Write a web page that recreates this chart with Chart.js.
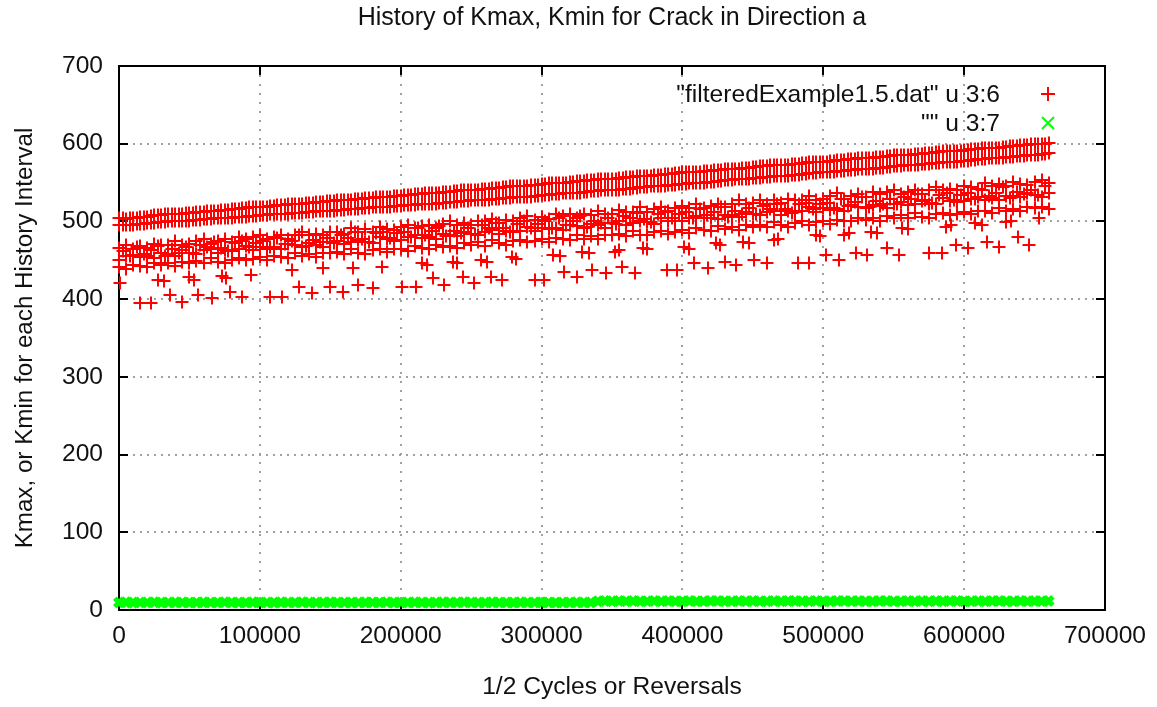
<!DOCTYPE html>
<html>
<head>
<meta charset="utf-8">
<title>History of Kmax, Kmin for Crack in Direction a</title>
<script src="https://cdn.jsdelivr.net/npm/chart.js"></script>
<style>
  html, body { margin: 0; padding: 0; background: #fff; overflow: hidden; }
  #chart { display: block; }
</style>
</head>
<body>
<canvas id="chart" width="1157" height="707"></canvas>
<script>
const ctx = document.getElementById("chart");

const TITLE = "History of Kmax, Kmin for Crack in Direction a";
const X_TITLE = "1/2 Cycles or Reversals";
const Y_TITLE = "Kmax, or Kmin for each History Interval";
const LABEL_K = '"filteredExample1.5.dat" u 3:6';
const LABEL_KMIN = '"" u 3:7';

const xTicks = [0, 100000, 200000, 300000, 400000, 500000, 600000, 700000];
const yTicks = [0, 100, 200, 300, 400, 500, 600, 700];

// 1/2 cycles of each history interval
const cycles = [
  0, 5000, 10000, 15000, 20000, 25000, 30000, 35000, 40000, 45000,
  50000, 55000, 60000, 65000, 70000, 75000, 80000, 85000, 90000, 95000,
  100000, 105000, 110000, 115000, 120000, 125000, 130000, 135000, 140000, 145000,
  150000, 155000, 160000, 165000, 170000, 175000, 180000, 185000, 190000, 195000,
  200000, 205000, 210000, 215000, 220000, 225000, 230000, 235000, 240000, 245000,
  250000, 255000, 260000, 265000, 270000, 275000, 280000, 285000, 290000, 295000,
  300000, 305000, 310000, 315000, 320000, 325000, 330000, 335000, 340000, 345000,
  350000, 355000, 360000, 365000, 370000, 375000, 380000, 385000, 390000, 395000,
  400000, 405000, 410000, 415000, 420000, 425000, 430000, 435000, 440000, 445000,
  450000, 455000, 460000, 465000, 470000, 475000, 480000, 485000, 490000, 495000,
  500000, 505000, 510000, 515000, 520000, 525000, 530000, 535000, 540000, 545000,
  550000, 555000, 560000, 565000, 570000, 575000, 580000, 585000, 590000, 595000,
  600000, 605000, 610000, 615000, 620000, 625000, 630000, 635000, 640000, 645000,
  650000, 655000, 660000
];
// the intervals that fall in between
const cyclesMid = [
  2500, 7500, 12500, 17500, 22500, 27500, 32500, 37500, 42500, 47500,
  52500, 57500, 62500, 67500, 72500, 77500, 82500, 87500, 92500, 97500,
  102500, 107500, 112500, 117500, 122500, 127500, 132500, 137500, 142500, 147500,
  152500, 157500, 162500, 167500, 172500, 177500, 182500, 187500, 192500, 197500,
  202500, 207500, 212500, 217500, 222500, 227500, 232500, 237500, 242500, 247500,
  252500, 257500, 262500, 267500, 272500, 277500, 282500, 287500, 292500, 297500,
  302500, 307500, 312500, 317500, 322500, 327500, 332500, 337500, 342500, 347500,
  352500, 357500, 362500, 367500, 372500, 377500, 382500, 387500, 392500, 397500,
  402500, 407500, 412500, 417500, 422500, 427500, 432500, 437500, 442500, 447500,
  452500, 457500, 462500, 467500, 472500, 477500, 482500, 487500, 492500, 497500,
  502500, 507500, 512500, 517500, 522500, 527500, 532500, 537500, 542500, 547500,
  552500, 557500, 562500, 567500, 572500, 577500, 582500, 587500, 592500, 597500,
  602500, 607500, 612500, 617500, 622500, 627500, 632500, 637500, 642500, 647500,
  652500, 657500
];

// Kmax, upper band (two rows)
const kmaxTop = [
  504, 503, 505, 506, 506, 508, 508, 509, 510, 510,
  511, 512, 512, 514, 514, 515, 516, 516, 517, 518,
  519, 519, 520, 521, 522, 522, 523, 524, 525, 525,
  526, 527, 527, 528, 529, 530, 530, 531, 532, 533,
  533, 534, 535, 535, 536, 537, 538, 538, 539, 540,
  541, 541, 542, 543, 543, 544, 545, 546, 546, 547,
  548, 549, 549, 550, 551, 552, 552, 553, 554, 554,
  555, 556, 557, 557, 558, 559, 560, 560, 561, 562,
  563, 563, 564, 565, 565, 566, 567, 568, 568, 569,
  570, 571, 571, 572, 573, 573, 574, 575, 576, 576,
  577, 578, 579, 579, 580, 581, 582, 582, 583, 584,
  585, 585, 586, 587, 587, 588, 589, 590, 590, 591,
  592, 593, 593, 594, 595, 595, 596, 597, 598, 598,
  599, 600, 601
];
const kmaxTop2 = [
  495, 496, 496, 497, 498, 498, 499, 500, 500, 501,
  501, 502, 503, 503, 504, 505, 505, 506, 506, 507,
  508, 508, 509, 510, 510, 511, 511, 512, 513, 513,
  514, 515, 515, 516, 516, 517, 518, 518, 519, 520,
  520, 521, 521, 522, 523, 523, 524, 525, 525, 526,
  527, 527, 528, 529, 529, 530, 531, 531, 532, 533,
  534, 534, 535, 536, 536, 537, 538, 539, 539, 540,
  541, 541, 542, 543, 544, 544, 545, 546, 547, 547,
  548, 549, 550, 550, 551, 552, 553, 553, 554, 555,
  556, 556, 557, 558, 559, 559, 560, 561, 562, 562,
  563, 564, 565, 565, 566, 567, 568, 568, 569, 570,
  571, 571, 572, 573, 574, 574, 575, 576, 577, 577,
  578, 579, 580, 580, 581, 582, 583, 583, 584, 585,
  586, 587, 588
];
const kmaxTopMid = [
  504, 504, 505, 506, 507, 508, 509, 509, 510, 511,
  511, 512, 513, 514, 515, 515, 516, 517, 518, 518,
  519, 520, 521, 521, 522, 523, 524, 524, 525, 526,
  526, 527, 528, 529, 529, 530, 531, 532, 532, 533,
  534, 534, 535, 536, 537, 537, 538, 539, 540, 540,
  541, 542, 542, 543, 544, 545, 545, 546, 547, 547,
  548, 549, 550, 550, 551, 552, 553, 553, 554, 555,
  555, 556, 557, 558, 558, 559, 560, 561, 561, 562,
  563, 564, 564, 565, 566, 566, 567, 568, 569, 569,
  570, 571, 572, 572, 573, 574, 574, 575, 576, 577,
  577, 578, 579, 580, 580, 581, 582, 583, 583, 584,
  585, 586, 586, 587, 588, 588, 589, 590, 591, 591,
  592, 593, 594, 594, 595, 596, 597, 597, 598, 599,
  599, 600
];
const kmaxTop2Mid = [
  495, 496, 497, 497, 498, 499, 499, 500, 501, 501,
  502, 502, 503, 504, 504, 505, 506, 506, 507, 507,
  508, 509, 509, 510, 511, 511, 512, 512, 513, 514,
  514, 515, 516, 516, 517, 517, 518, 519, 519, 520,
  521, 521, 522, 522, 523, 524, 524, 525, 526, 526,
  527, 528, 528, 529, 530, 530, 531, 532, 532, 533,
  534, 535, 535, 536, 537, 537, 538, 539, 540, 540,
  541, 542, 542, 543, 544, 545, 545, 546, 547, 548,
  548, 549, 550, 551, 551, 552, 553, 554, 554, 555,
  556, 557, 557, 558, 559, 560, 560, 561, 562, 563,
  563, 564, 565, 566, 566, 567, 568, 569, 569, 570,
  571, 572, 572, 573, 574, 575, 575, 576, 577, 578,
  578, 579, 580, 581, 581, 582, 583, 584, 584, 585,
  586, 587
];

// Kmax, middle band
const kmaxMidA = [
  466, 470, 465, 469, 466, 471, 470, 470, 475, 470,
  471, 475, 478, 471, 475, 477, 474, 480, 477, 480,
  482, 478, 480, 483, 477, 483, 486, 482, 484, 482,
  487, 486, 484, 491, 487, 490, 487, 493, 490, 489,
  493, 495, 491, 494, 496, 492, 497, 500, 496, 498,
  496, 501, 500, 503, 498, 502, 501, 505, 507, 502,
  506, 503, 509, 507, 509, 505, 510, 508, 513, 510,
  509, 515, 512, 512, 518, 512, 516, 518, 513, 517,
  520, 517, 522, 517, 520, 523, 518, 523, 527, 522,
  524, 528, 523, 527, 524, 529, 528, 527, 533, 528,
  529, 533, 536, 529, 533, 535, 532, 538, 535, 538,
  540, 535, 538, 541, 535, 541, 544, 540, 542, 540,
  545, 544, 542, 549, 545, 548, 545, 551, 548, 547,
  551, 553, 549
];
const kmaxMidB = [
  451, 455, 457, 454, 456, 453, 459, 458, 456, 463,
  459, 458, 463, 464, 459, 463, 462, 464, 468, 463,
  467, 465, 467, 464, 471, 470, 467, 472, 470, 467,
  473, 475, 471, 474, 476, 474, 472, 480, 477, 475,
  476, 480, 482, 479, 480, 478, 484, 483, 481, 487,
  484, 483, 487, 489, 484, 488, 487, 488, 493, 488,
  492, 490, 492, 489, 496, 494, 492, 497, 495, 492,
  498, 500, 496, 498, 501, 499, 497, 505, 501, 500,
  501, 504, 507, 504, 505, 503, 508, 508, 506, 512,
  509, 508, 512, 514, 508, 513, 512, 513, 518, 512,
  517, 515, 516, 514, 521, 519, 517, 521, 520, 517,
  522, 525, 521, 523, 526, 523, 522, 530, 526, 525,
  526, 529, 532, 528, 530, 528, 533, 533, 531, 537,
  534, 532, 537
];
const kmaxMidC = [
  442, 439, 444, 443, 441, 447, 444, 446, 443, 448,
  447, 449, 446, 453, 448, 447, 451, 453, 450, 452,
  454, 450, 456, 454, 453, 459, 455, 458, 454, 460,
  459, 461, 458, 464, 460, 458, 463, 465, 461, 464,
  465, 462, 468, 466, 465, 470, 467, 469, 466, 472,
  470, 473, 469, 476, 472, 470, 475, 476, 473, 475,
  477, 474, 479, 478, 476, 482, 478, 481, 478, 483,
  482, 484, 481, 488, 483, 482, 486, 488, 484, 487,
  489, 485, 491, 489, 488, 494, 490, 493, 489, 495,
  493, 496, 493, 499, 495, 493, 498, 500, 496, 499,
  500, 497, 502, 501, 500, 505, 502, 504, 501, 507,
  505, 508, 504, 511, 506, 505, 510, 511, 508, 510,
  512, 509, 514, 513, 511, 517, 514, 516, 513, 518,
  517, 519, 516
];
const kmaxMidMid = [
  462, 455, 467, 458, 463, 469, 456, 464, 460, 467,
  460, 470, 467, 473, 466, 462, 472, 475, 467, 472,
  475, 467, 479, 471, 475, 482, 468, 476, 473, 479,
  472, 483, 479, 486, 478, 474, 485, 487, 479, 485,
  487, 480, 491, 483, 488, 494, 481, 488, 485, 492,
  484, 495, 492, 498, 491, 486, 497, 500, 491, 497,
  500, 492, 504, 495, 500, 507, 493, 501, 498, 504,
  497, 507, 504, 511, 503, 499, 509, 512, 504, 509,
  512, 505, 516, 508, 512, 519, 506, 513, 510, 517,
  509, 520, 516, 523, 516, 511, 522, 524, 516, 522,
  524, 517, 529, 520, 525, 531, 518, 526, 522, 529,
  522, 532, 529, 535, 528, 524, 534, 537, 528, 534,
  537, 529, 541, 533, 537, 544, 530, 538, 535, 541,
  534, 545
];

// Kmax, the sparse points under the bands
const stepCycles = [
  1000, 28000, 32000, 50000, 53000, 73000, 76000, 94000, 123000, 145000,
  166000, 187000, 215000, 219000, 237000, 240000, 257000, 261000, 279000, 282000,
  308000, 313000, 329000, 334000, 352000, 355000, 372000, 375000, 401000, 405000,
  424000, 427000, 443000, 447000, 465000, 468000, 495000, 498000, 515000, 518000,
  534000, 538000, 556000, 560000, 587000, 591000, 608000, 613000, 630000, 633000,
  653000
];
const stepKmax = [
  421, 425, 423, 428, 425, 430, 427, 431, 438, 440,
  440, 441, 446, 444, 448, 446, 450, 448, 454, 452,
  457, 455, 461, 459, 461, 463, 466, 464, 467, 465,
  472, 470, 474, 472, 476, 478, 483, 481, 483, 485,
  487, 485, 492, 490, 493, 495, 498, 496, 499, 501,
  504
];
const dipCycles = [
  15000, 23000, 36000, 45000, 56000, 66000, 79000, 87000, 107000, 116000,
  128000, 137000, 150000, 159000, 170000, 180000, 201000, 211000, 223000, 231000,
  244000, 252000, 264000, 272000, 295000, 302000, 316000, 325000, 336000, 346000,
  357000, 366000, 389000, 396000, 408000, 418000, 430000, 438000, 451000, 460000,
  482000, 490000, 502000, 511000, 523000, 531000, 545000, 554000, 575000, 584000,
  594000, 603000, 616000, 625000, 638000, 646000
];
const dipKmax = [
  395, 395, 405, 396, 405, 401, 409, 403, 403, 403,
  416, 408, 416, 409, 418, 414, 416, 416, 427, 418,
  429, 421, 429, 425, 425, 425, 435, 429, 438, 433,
  441, 433, 438, 438, 446, 440, 448, 444, 450, 446,
  446, 446, 457, 450, 459, 457, 466, 457, 459, 459,
  470, 466, 474, 467, 480, 470
];

// Kmin for each interval
const kmin = [
  9.6, 9.8, 9.5, 9.7, 9.6, 9.9, 9.5, 9.6, 9.8, 9.7,
  9.6, 9.5, 9.8, 9.7, 9.6, 9.9, 9.6, 9.5, 9.7, 9.8,
  9.6, 9.7, 9.5, 9.8, 9.6, 9.7, 9.9, 9.6, 9.5, 9.7,
  9.8, 9.6, 9.7, 9.5, 9.6, 9.8, 9.7, 9.6, 9.9, 9.5,
  9.7, 9.6, 9.8, 9.6, 9.5, 9.7, 9.8, 9.6, 9.7, 9.9,
  9.6, 9.5, 9.7, 9.8, 9.6, 9.7, 9.5, 9.8, 9.6, 9.7,
  9.8, 9.6, 9.5, 9.7, 9.6, 9.8, 9.7, 9.6, 11.4, 11.5,
  11.3, 11.5, 11.4, 11.6, 11.3, 11.4, 11.5, 11.4, 11.6, 11.3,
  11.4, 11.5, 11.3, 11.4, 11.6, 11.5, 11.4, 11.3, 11.5, 11.4,
  11.6, 11.4, 11.3, 11.5, 11.4, 11.5, 11.6, 11.3, 11.4, 11.5,
  11.4, 11.3, 11.5, 11.6, 11.4, 11.5, 11.3, 11.4, 11.6, 11.5,
  11.3, 11.4, 11.5, 11.4, 11.6, 11.3, 11.5, 11.4, 11.5, 11.6,
  11.4, 11.3, 11.5, 11.4, 11.6, 11.5, 11.4, 11.3, 11.5, 11.4,
  11.5, 11.4, 11.6
];

const FAMILY = '"Liberation Sans", Arial, sans-serif';
const TEXT = "#111";
const FONT = { family: FAMILY, size: 24.6, weight: "normal" };
const TITLE_FONT = { family: FAMILY, size: 25, weight: "normal" };
const YTITLE_FONT = { family: FAMILY, size: 24.2, weight: "normal" };

const zip = (xs, ys) => xs.map((x, i) => ({ x: x, y: ys[i] }));

const kmaxPoints = [].concat(
  zip(cycles, kmaxTop),
  zip(cycles, kmaxTop2),
  zip(cyclesMid, kmaxTopMid),
  zip(cyclesMid, kmaxTop2Mid),
  zip(cycles, kmaxMidA),
  zip(cycles, kmaxMidB),
  zip(cycles, kmaxMidC),
  zip(cyclesMid, kmaxMidMid),
  zip(stepCycles, stepKmax),
  zip(dipCycles, dipKmax)
);

// border with inward tics on all four sides, like gnuplot
const frame = {
  id: "frame",
  beforeDatasetsDraw(chart) {
    const c = chart.ctx;
    const a = chart.chartArea;
    const px = (v) => Math.round(v);
    const L = px(a.left), R = px(a.right), T = px(a.top), B = px(a.bottom);
    c.save();
    c.strokeStyle = "#000";
    c.lineWidth = 2;
    c.beginPath();
    c.rect(L, T, R - L, B - T);
    chart.scales.x.ticks.forEach((t) => {
      const x = px(chart.scales.x.getPixelForValue(t.value));
      c.moveTo(x, B); c.lineTo(x, B - 9);
      c.moveTo(x, T); c.lineTo(x, T + 9);
    });
    chart.scales.y.ticks.forEach((t) => {
      const y = px(chart.scales.y.getPixelForValue(t.value));
      c.moveTo(L, y); c.lineTo(L + 9, y);
      c.moveTo(R, y); c.lineTo(R - 9, y);
    });
    c.stroke();
    c.restore();
  },
};

// gnuplot puts its points on whole pixels
const snap = {
  id: "snap",
  beforeDatasetsDraw(chart) {
    chart.getDatasetMeta(0).data.forEach((p) => {
      p.x = Math.round(p.x);
      p.y = Math.round(p.y);
    });
  },
};

// the Kmin crosses are packed so tight they merge into one band
const squareCaps = {
  id: "squareCaps",
  beforeDatasetDraw(chart, args) {
    if (args.index === 1) { chart.ctx.save(); chart.ctx.lineCap = "square"; }
  },
  afterDatasetDraw(chart, args) {
    if (args.index === 1) chart.ctx.restore();
  },
};

// key in the top right corner: text right aligned, sample point after it
const key = {
  id: "key",
  afterDatasetsDraw(chart) {
    const c = chart.ctx;
    c.save();
    c.font = FONT.size + "px " + FAMILY;
    c.fillStyle = TEXT;
    c.textAlign = "right";
    c.textBaseline = "middle";
    chart.data.datasets.forEach((ds, i) => {
      const y = 94 + i * 29;
      const x = 1048;
      c.fillText(ds.label, 1000, y + 1);
      c.strokeStyle = ds.borderColor;
      c.lineWidth = 2;
      c.lineCap = "butt";
      c.beginPath();
      if (ds.pointStyle === "cross") {
        c.moveTo(x - 7, y); c.lineTo(x + 7, y);
        c.moveTo(x, y - 7); c.lineTo(x, y + 7);
      } else {
        c.moveTo(x - 6, y - 6); c.lineTo(x + 6, y + 6);
        c.moveTo(x - 6, y + 6); c.lineTo(x + 6, y - 6);
      }
      c.stroke();
    });
    c.restore();
  },
};

new Chart(ctx, {
  type: "scatter",
  data: {
    datasets: [
      {
        label: LABEL_K,
        data: kmaxPoints,
        pointStyle: "cross",
        pointRadius: 6.5,
        borderWidth: 2,
        borderColor: "#ff0000",
        backgroundColor: "#ff0000",
        clip: false,
      },
      {
        label: LABEL_KMIN,
        data: zip(cycles, kmin),
        pointStyle: "crossRot",
        pointRadius: 3.5,
        borderWidth: 5,
        borderColor: "#00ff00",
        backgroundColor: "#00ff00",
        clip: false,
      },
    ],
  },
  options: {
    responsive: false,
    animation: false,
    devicePixelRatio: 1,
    events: [],
    layout: { padding: { left: 0, top: 0, right: 51, bottom: 0 } },
    plugins: {
      legend: { display: false },
      tooltip: { enabled: false },
      title: {
        display: true,
        fullSize: false,
        text: TITLE,
        color: TEXT,
        font: TITLE_FONT,
        padding: { top: 2.8, bottom: 33.2 },
      },
    },
    scales: {
      x: {
        type: "linear",
        min: xTicks[0],
        max: xTicks[xTicks.length - 1],
        afterFit: (s) => { s.height = 97; },
        afterBuildTicks: (s) => { s.ticks = xTicks.map((v) => ({ value: v })); },
        ticks: {
          color: TEXT,
          font: FONT,
          padding: 11,
          maxRotation: 0,
          autoSkip: false,
          callback: (v) => String(v),
        },
        grid: { color: "#a0a0a0", lineWidth: 2, drawTicks: false },
        border: { display: false, dash: [2, 7] },
        title: { display: true, text: X_TITLE, color: TEXT, font: FONT, padding: { top: 0, bottom: 5.2 } },
      },
      y: {
        type: "linear",
        min: yTicks[0],
        max: yTicks[yTicks.length - 1],
        afterFit: (s) => { s.width = 119; },
        afterBuildTicks: (s) => { s.ticks = yTicks.map((v) => ({ value: v })); },
        ticks: {
          color: TEXT,
          font: FONT,
          padding: 16,
          callback: (v) => String(v),
        },
        grid: { color: "#a0a0a0", lineWidth: 2, drawTicks: false },
        border: { display: false, dash: [2, 5] },
        title: { display: true, text: Y_TITLE, color: TEXT, font: YTITLE_FONT, padding: { top: 10.5, bottom: 0 } },
      },
    },
  },
  plugins: [frame, snap, squareCaps, key],
});
</script>
</body>
</html>
